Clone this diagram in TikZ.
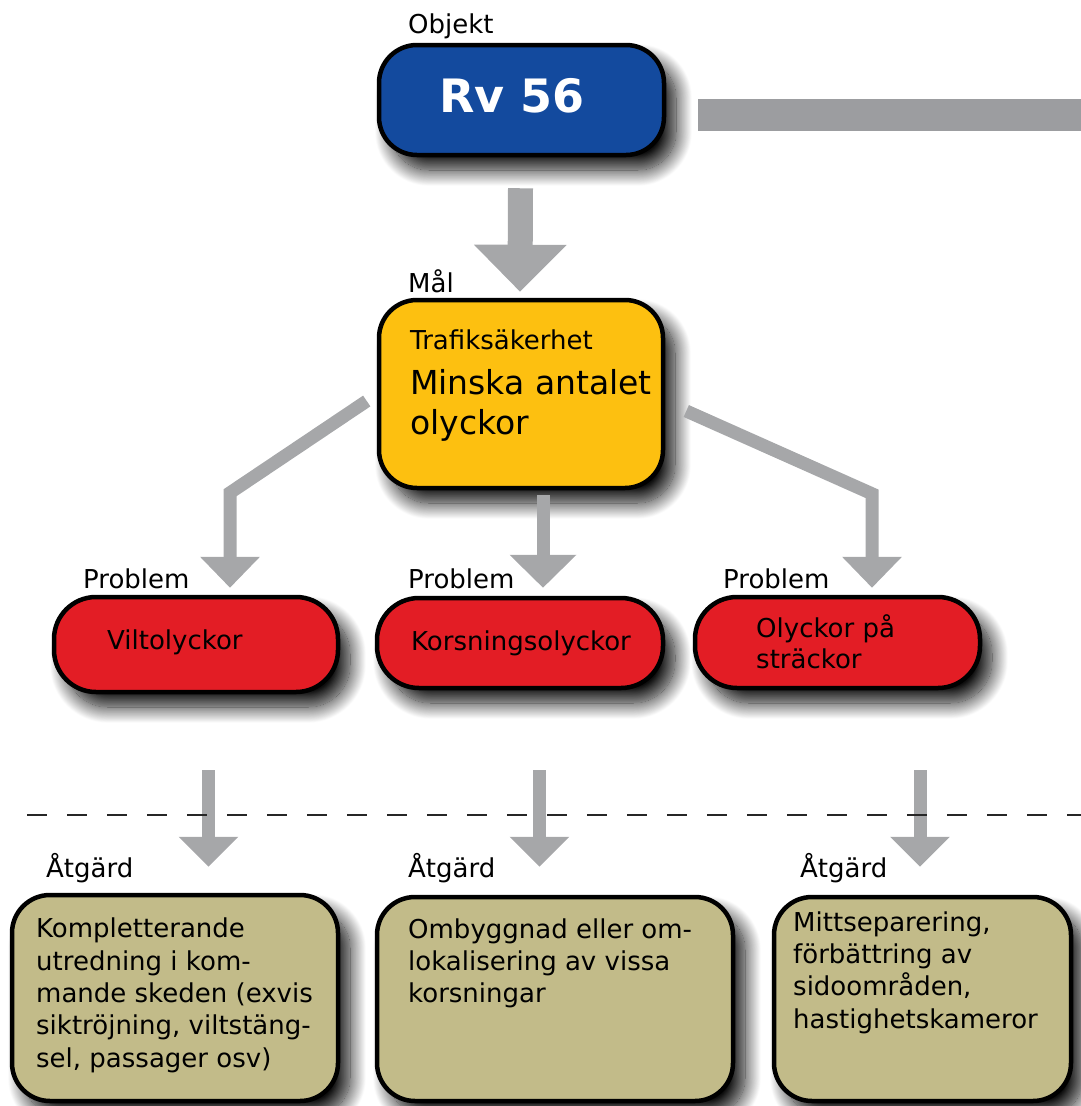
\documentclass[tikz,border=0pt]{standalone}
\usepackage{fontspec}
\setmainfont{DejaVu Sans}
\usetikzlibrary{arrows.meta,shadows.blur,calc}
\definecolor{objblue}{HTML}{134A9E}
\definecolor{goalyellow}{HTML}{FDC010}
\definecolor{probred}{HTML}{E31D25}
\definecolor{actkhaki}{HTML}{C2BB89}
\definecolor{arrgray}{HTML}{A6A7A9}
\definecolor{bargray}{HTML}{9C9DA0}
\tikzset{
  box/.style={draw=black, line width=4.5pt, rounded corners=38pt, inner sep=0pt,
    blur shadow={shadow xshift=12pt, shadow yshift=-15pt, shadow blur radius=16pt, shadow blur steps=24, shadow opacity=95}},
  lbl/.style={anchor=base west, inner sep=0pt, font=\fontsize{26}{32}\selectfont},
  txt/.style={anchor=base west, inner sep=0pt, align=left},
  bigarrow/.style={arrgray, line width=25pt, -{Triangle[width=90pt,length=47pt]}},
  midarrow/.style={arrgray, line width=13pt, line join=miter, -{Triangle[width=58pt,length=31pt]}},
  widearrow/.style={arrgray, line width=13pt, -{Triangle[width=65pt,length=33pt]}},
  lowarrow/.style={arrgray, line width=13pt, -{Triangle[width=58pt,length=30pt]}},
}
\begin{document}
\begin{tikzpicture}[x=1pt,y=-1pt]
\useasboundingbox (0,0) rectangle (1081,1106);
% boxes
\node[box, fill=objblue, minimum width=285pt, minimum height=110pt] (rv) at (521.5,100) {};
\node[box, fill=goalyellow, minimum width=284pt, minimum height=188pt] (mal) at (521,394) {};
\node[box, fill=probred, rounded corners=42pt, minimum width=284pt, minimum height=95pt] (pl) at (196,644.5) {};
\node[box, fill=probred, rounded corners=42pt, minimum width=286pt, minimum height=90pt] (pm) at (520,643) {};
\node[box, fill=probred, rounded corners=42pt, minimum width=285pt, minimum height=91pt] (pr) at (837.5,642.5) {};
\node[box, fill=actkhaki, minimum width=326pt, minimum height=206pt] (al) at (175,998) {};
\node[box, fill=actkhaki, minimum width=356pt, minimum height=204pt] (am) at (555,999) {};
\node[box, fill=actkhaki, minimum width=297pt, minimum height=204pt] (ar) at (922.5,999) {};
% bar
\coordinate (barend) at (1081,115);
\draw[bargray, line width=32pt] ($(rv.east)+(32,15)$) -- (barend);
% arrows
\draw[bigarrow] ($(rv.south)+(-1,31)$) -- ($(mal.north)+(-1,-6)$);
\draw[midarrow] ($(mal.west)+(-10,7)$) -- ($(pl.north)+(34,-102)$) -- ($(pl.north)+(34,-7)$);
\draw[widearrow] ($(mal.south)+(22,5)$) -- ($(pm.north)+(23,-8)$);
\draw[midarrow] ($(mal.east)+(21,17)$) -- ($(pr.north)+(34.5,-101)$) -- ($(pr.north)+(34.5,-7)$);
\draw[lowarrow] ($(pl.south)+(12.5,76)$) -- ($(al.north)+(33.5,-26)$);
\draw[lowarrow] ($(pm.south)+(19.5,80)$) -- ($(am.north)+(-15.5,-28)$);
\draw[lowarrow] ($(pr.south)+(82.5,80)$) -- ($(ar.north)+(-2.5,-28)$);
% dashed line
\coordinate (dl) at (27,815);
\coordinate (dr) at (1081,815);
\draw[black!85, line width=1.5pt, dash pattern=on 20pt off 20pt] (dl) -- (dr);
% labels
\node[lbl] (lobj) at (408,33) {Objekt};
\node[lbl] (lmal) at (408,292) {Mål};
\node[lbl] (lp1) at (83,588) {Problem};
\node[lbl] (lp2) at (408,588) {Problem};
\node[lbl] (lp3) at (723,588) {Problem};
\node[lbl] (la1) at (46,877) {Åtgärd};
\node[lbl] (la2) at (408,877) {Åtgärd};
\node[lbl] (la3) at (800,877) {Åtgärd};
% texts (multi-line nodes: base = last line's baseline)
\node[anchor=base, inner sep=0pt, text=white, font=\fontsize{46}{50}\selectfont\bfseries] (trv) at (512,112) {Rv 56};
\node[txt, font=\fontsize{26}{32}\selectfont] (tts) at (410,349) {Trafiksäkerhet};
\node[txt, font=\fontsize{33}{40}\selectfont] (tmin) at (410,434) {Minska antalet\\olyckor};
\node[txt, font=\fontsize{26}{32}\selectfont] (tp1) at (107,649) {Viltolyckor};
\node[txt, font=\fontsize{26}{32}\selectfont] (tp2) at (411,650) {Korsningsolyckor};
\node[txt, font=\fontsize{26}{31}\selectfont] (tp3) at (756,668) {Olyckor på\\sträckor};
\node[txt, font=\fontsize{26}{32.3}\selectfont] (ta1) at (36,1067) {Kompletterande\\utredning i kom-\\mande skeden (exvis\\siktröjning, viltstäng-\\sel, passager osv)};
\node[txt, font=\fontsize{26}{32.3}\selectfont] (ta2) at (408,1002.6) {Ombyggnad eller om-\\lokalisering av vissa\\korsningar};
\node[txt, font=\fontsize{26}{32.3}\selectfont] (ta3) at (793,1028) {Mittseparering,\\förbättring av\\sidoområden,\\hastighetskameror};
\end{tikzpicture}
\end{document}
